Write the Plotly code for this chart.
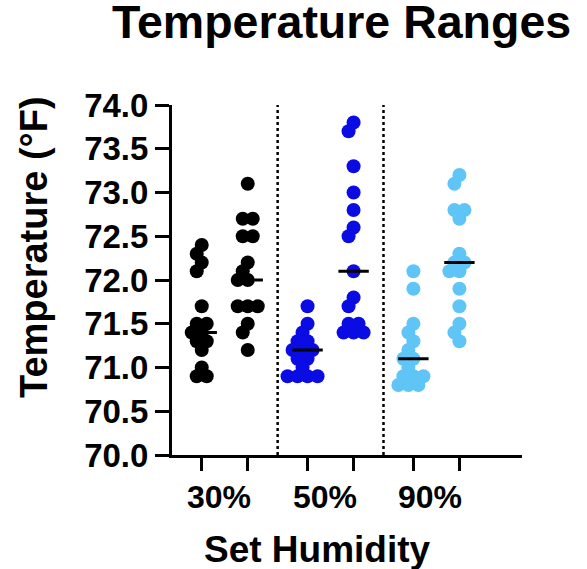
import numpy as np
import plotly.graph_objects as go

# ---------------- data ----------------
group_labels = ["30%", "50%", "90%"]
col_positions = [0.0, 1.0, 2.3, 3.3, 4.6, 5.6]
separators = [1.65, 3.95]
col_colors = ["#000000", "#000000", "#0b0be3", "#0b0be3", "#5fc5f7", "#5fc5f7"]

hum30_a = [72.4, 72.3, 72.2, 72.1, 71.7, 71.5, 71.5, 71.4, 71.4, 71.3, 71.3, 71.2, 71.0, 70.9, 70.9]
hum30_b = [73.1, 72.7, 72.7, 72.5, 72.5, 72.2, 72.1, 72.0, 72.0, 71.7, 71.7, 71.7, 71.5, 71.4, 71.2]
hum50_a = [71.7, 71.5, 71.4, 71.3, 71.3, 71.2, 71.2, 71.2, 71.1, 71.1, 71.0, 70.9, 70.9, 70.9, 70.9]
hum50_b = [73.8, 73.7, 73.3, 73.0, 72.8, 72.6, 72.5, 72.1, 71.8, 71.7, 71.5, 71.5, 71.4, 71.4, 71.4]
hum90_a = [72.1, 71.9, 71.5, 71.4, 71.3, 71.2, 71.1, 71.1, 71.0, 70.9, 70.9, 70.9, 70.8, 70.8, 70.8]
hum90_b = [73.2, 73.1, 72.8, 72.8, 72.7, 72.3, 72.2, 72.2, 72.1, 72.1, 71.9, 71.7, 71.5, 71.4, 71.3]
columns = [hum30_a, hum30_b, hum50_a, hum50_b, hum90_a, hum90_b]

y_ticks = [70.0, 70.5, 71.0, 71.5, 72.0, 72.5, 73.0, 73.5, 74.0]

# ---------------- layout geometry ----------------
W, H = 587, 569
ML, MR, MT, MB = 172, 65, 105, 114
PW, PH = W - ML - MR, H - MT - MB
x_range = [-0.646, 6.96]
y_range = [70.0, 74.0]
px_per_x = PW / (x_range[1] - x_range[0])
px_per_y = PH / (y_range[1] - y_range[0])


def swarm_offsets(vals, dmin=10.0, spacing=10.0, max_shift=7):
    """Compact beeswarm layout in pixel space; returns x offsets in data units."""
    vals = np.asarray(vals, float)
    order = np.argsort(-vals, kind="stable")
    offs = np.zeros(len(vals))
    placed = []
    rows = []
    for i in order:
        if not rows or abs(vals[i] - rows[-1][0]) > 1e-9:
            rows.append([vals[i], [i]])
        else:
            rows[-1][1].append(i)
    for v, idxs in rows:
        n = len(idxs)
        base = [(k - (n - 1) / 2) * spacing for k in range(n)]
        ypix = v * px_per_y
        best, best_cost = 0, None
        for sh in sorted(range(-max_shift, max_shift + 1), key=abs):
            cost = 0.0
            for b in base:
                for (px, py) in placed:
                    d = np.hypot(b + sh - px, ypix - py)
                    if d < dmin:
                        cost += dmin - d
            if best_cost is None or cost < best_cost - 1e-9:
                best, best_cost = sh, cost
            if cost == 0:
                break
        for b, i in zip(base, idxs):
            offs[i] = (b + best) / px_per_x
            placed.append((b + best, ypix))
    return offs


fig = go.Figure()
FONT = "Liberation Sans, Arial, sans-serif"

for pos, vals, color in zip(col_positions, columns, col_colors):
    offs = swarm_offsets(vals)
    fig.add_trace(go.Scatter(
        x=[pos + o for o in offs], y=vals, mode="markers",
        marker=dict(size=14, color=color, line=dict(width=0)),
        showlegend=False, hoverinfo="y"))

# median lines
mx, my = [], []
for pos, vals in zip(col_positions, columns):
    m = float(np.median(vals))
    mx += [pos - 0.33, pos + 0.33, None]
    my += [m, m, None]
fig.add_trace(go.Scatter(x=mx, y=my, mode="lines",
                         line=dict(color="black", width=3),
                         showlegend=False, hoverinfo="skip"))

for s in separators:
    fig.add_shape(type="line", xref="x", yref="y", x0=s, x1=s,
                  y0=y_range[0], y1=y_range[1],
                  line=dict(color="black", width=2.5, dash="dot"))

fig.update_layout(
    width=W, height=H,
    margin=dict(l=ML, r=MR, t=MT, b=MB),
    paper_bgcolor="white", plot_bgcolor="white",
    font=dict(family=FONT, color="black", size=32, weight=700),
)
fig.update_xaxes(range=x_range, showgrid=False, zeroline=False,
                 showline=True, linecolor="black", linewidth=3,
                 tickvals=col_positions, ticktext=[""] * 6,
                 ticks="outside", ticklen=13, tickwidth=3, tickcolor="black")
fig.update_yaxes(range=y_range, showgrid=False, zeroline=False,
                 showline=True, linecolor="black", linewidth=3,
                 tickvals=y_ticks, ticktext=[f"{v:.1f}" for v in y_ticks],
                 ticks="outside", ticklen=14, tickwidth=3, tickcolor="black",
                 tickfont=dict(size=33, family=FONT, weight=700))

centers = [(col_positions[0] + col_positions[1]) / 2,
           (col_positions[2] + col_positions[3]) / 2,
           (col_positions[4] + col_positions[5]) / 2]
for c, lab in zip(centers, group_labels):
    fig.add_annotation(x=c, xref="x", y=0, yref="paper", text=lab,
                       showarrow=False, yanchor="middle", yshift=-42, xshift=-6,
                       font=dict(size=32, family=FONT, weight=700))

fig.add_annotation(x=(317 - ML) / PW, xref="paper", y=0, yref="paper", text="Set Humidity",
                   showarrow=False, yanchor="middle", yshift=-94,
                   font=dict(size=37, family=FONT, weight=700))
fig.add_annotation(x=0, xref="paper", xshift=-(ML - 34), y=(455 - 247) / PH, yref="paper",
                   text="Temperature (°F)", textangle=-90, showarrow=False,
                   xanchor="center", yanchor="middle",
                   font=dict(size=38, family=FONT, weight=700))
fig.add_annotation(x=(341 - ML) / PW, xref="paper", y=1, yref="paper", yshift=MT - 22,
                   text="Temperature Ranges", showarrow=False,
                   xanchor="center", yanchor="middle",
                   font=dict(size=46.5, family=FONT, weight=700))

fig.write_html("out.html")
